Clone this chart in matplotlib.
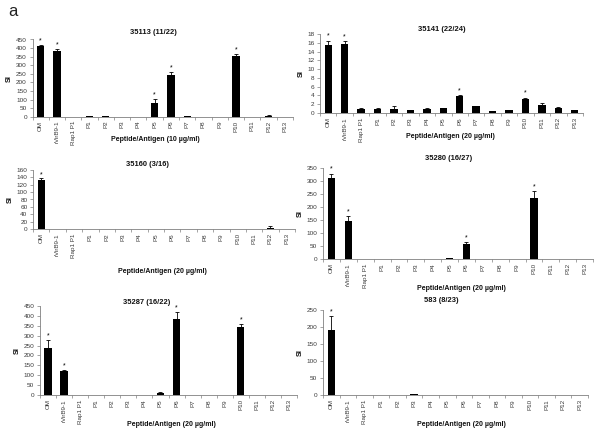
import matplotlib
matplotlib.use("Agg")
import matplotlib.pyplot as plt
import numpy as np

plt.rcParams['font.family'] = ['Liberation Sans', 'DejaVu Sans']

categories = ["OM", "rVirB9-1", "Rap1 P1", "P1", "P2", "P3", "P4", "P5", "P6",
              "P7", "P8", "P9", "P10", "P11", "P12", "P13"]

titles = ["35113 (11/22)", "35141 (22/24)", "35160 (3/16)",
          "35280 (16/27)", "35287 (16/22)", "583 (8/23)"]
xlabels = ["Peptide/Antigen (10 µg/ml)", "Peptide/Antigen (20 µg/ml)",
           "Peptide/Antigen (20 µg/ml)", "Peptide/Antigen (20 µg/ml)",
           "Peptide/Antigen (20 µg/ml)", "Peptide/Antigen (20 µg/ml)"]

si_35113 = [410, 383, 0, 5, 3, 0, 0, 82, 245, 2, 0, 0, 355, 0, 5, 0]
err_35113 = [8, 10, 0, 1, 1, 0, 0, 20, 15, 0, 0, 0, 10, 0, 2, 0]
star_35113 = [1, 1, 0, 0, 0, 0, 0, 1, 1, 0, 0, 0, 1, 0, 0, 0]

si_35141 = [15.4, 15.7, 1.0, 0.8, 1.0, 0.6, 1.0, 1.1, 3.8, 1.6, 0.45, 0.6, 3.3, 1.8, 1.1, 0.7]
err_35141 = [1.1, 0.6, 0.1, 0.3, 0.6, 0.05, 0.1, 0.1, 0.2, 0.1, 0.0, 0.0, 0.2, 0.5, 0.2, 0.05]
star_35141 = [1, 1, 0, 0, 0, 0, 0, 0, 1, 0, 0, 0, 1, 0, 0, 0]

si_35160 = [133, 1, 0.5, 1, 0, 0, 0, 0, 0, 0, 0.5, 0, 0, 0, 4, 0]
err_35160 = [4, 0, 0, 0, 0, 0, 0, 0, 0, 0, 0, 0, 0, 0, 3, 0]
star_35160 = [1, 0, 0, 0, 0, 0, 0, 0, 0, 0, 0, 0, 0, 0, 0, 0]

si_35280 = [310, 147, 0, 0, 0, 0, 0, 2, 58, 0, 0, 0, 235, 0, 0, 0]
err_35280 = [18, 18, 0, 0, 0, 0, 0, 0, 8, 0, 0, 0, 25, 0, 0, 0]
star_35280 = [1, 1, 0, 0, 0, 0, 0, 0, 1, 0, 0, 0, 1, 0, 0, 0]

si_35287 = [237, 120, 0, 0, 0, 0, 0, 12, 385, 2, 0, 0, 345, 0, 0, 0]
err_35287 = [40, 5, 0, 0, 0, 0, 0, 5, 35, 0, 0, 0, 12, 0, 0, 0]
star_35287 = [1, 1, 0, 0, 0, 0, 0, 0, 1, 0, 0, 0, 1, 0, 0, 0]

si_583 = [190, 0, 0, 0.5, 1, 2, 1, 0, 0, 0, 1, 1, 0, 1, 1, 1]
err_583 = [42, 0, 0, 0, 0, 1, 0, 0, 0, 0, 0, 0, 0, 0, 0, 0]
star_583 = [1, 0, 0, 0, 0, 0, 0, 0, 0, 0, 0, 0, 0, 0, 0, 0]

values = [si_35113, si_35141, si_35160, si_35280, si_35287, si_583]
errors = [err_35113, err_35141, err_35160, err_35280, err_35287, err_583]
stars = [star_35113, star_35141, star_35160, star_35280, star_35287, star_583]
ymax = [450, 18, 160, 350, 450, 250]
ystep = [50, 2, 20, 50, 50, 50]

W, H = 600, 436
# axes boxes in pixels: left, right, top, bottom
boxes = [(32.5, 293, 39.5, 116.7), (320, 583, 34, 113), (33, 295, 170, 229),
         (323, 593, 168, 259), (40, 297, 306, 395), (323, 588, 310, 395)]
title_pos = [(153, 32), (442, 29.5), (147, 164), (449, 158), (147, 303), (441, 301)]
xlabel_pos = [(155, 139), (450, 136), (162, 271), (461, 288), (171, 424), (461, 424)]

fig = plt.figure(figsize=(6, 4.36), dpi=100)
fig.text(8 / W, 1 - 12 / H, "a", fontsize=12, va='center', ha='left', color='#222222')

axis_col = '#808080'
text_col = '#3a3a3a'

for i in range(6):
    l, r, t, b = boxes[i]
    ax = fig.add_axes([l / W, 1 - b / H, (r - l) / W, (b - t) / H])
    x = np.arange(len(categories))
    v = np.array(values[i], dtype=float)
    e = np.array(errors[i], dtype=float)
    ax.bar(x, v, width=0.45, color='black', zorder=2)
    mask = e > 0
    ax.errorbar(x[mask], v[mask], yerr=[np.zeros(mask.sum()), e[mask]], fmt='none',
                ecolor='black', elinewidth=0.6, capsize=1.5, capthick=0.6, zorder=3)
    for xi, vi, ei, s in zip(x, v, e, stars[i]):
        if s:
            ax.text(xi, vi + ei + ymax[i] * 0.01, "*", ha='center', va='bottom',
                    fontsize=5, color='black')
    ax.set_xlim(-0.5, len(categories) - 0.5)
    ax.set_ylim(0, ymax[i])
    ax.set_yticks(np.arange(0, ymax[i] + ystep[i] / 2, ystep[i]))
    ax.set_xticks(x)
    ax.set_xticklabels(categories, rotation=90, fontsize=4.5, color=text_col)
    ax.set_xticks(np.arange(-0.5, len(categories)), minor=True)
    ax.tick_params(axis='x', which='major', length=0, pad=3)
    ax.tick_params(axis='x', which='minor', length=2.5, width=0.5, color=axis_col)
    ax.tick_params(axis='y', length=2.5, width=0.5, color=axis_col, labelsize=4.6,
                   labelcolor=text_col, pad=1.5)
    for sp in ['top', 'right']:
        ax.spines[sp].set_visible(False)
    for sp in ['left', 'bottom']:
        ax.spines[sp].set_color(axis_col)
        ax.spines[sp].set_linewidth(0.6)
    tx, ty = title_pos[i]
    ax.set_title(titles[i], fontsize=5.4, fontweight='bold', color='#111111',
                 x=(tx - l) / (r - l), y=(b - ty) / (b - t), va='center', pad=0)
    ax.set_xlabel(xlabels[i], fontsize=5, fontweight='bold', color='#111111')
    xx, xy = xlabel_pos[i]
    ax.xaxis.set_label_coords((xx - l) / (r - l), -(xy - b) / (b - t))
    ax.xaxis.label.set_va('center')
    ax.set_ylabel("SI", fontsize=5.2, fontweight='bold', color='#111111', labelpad=2)

fig.savefig("out.png", dpi=100)
